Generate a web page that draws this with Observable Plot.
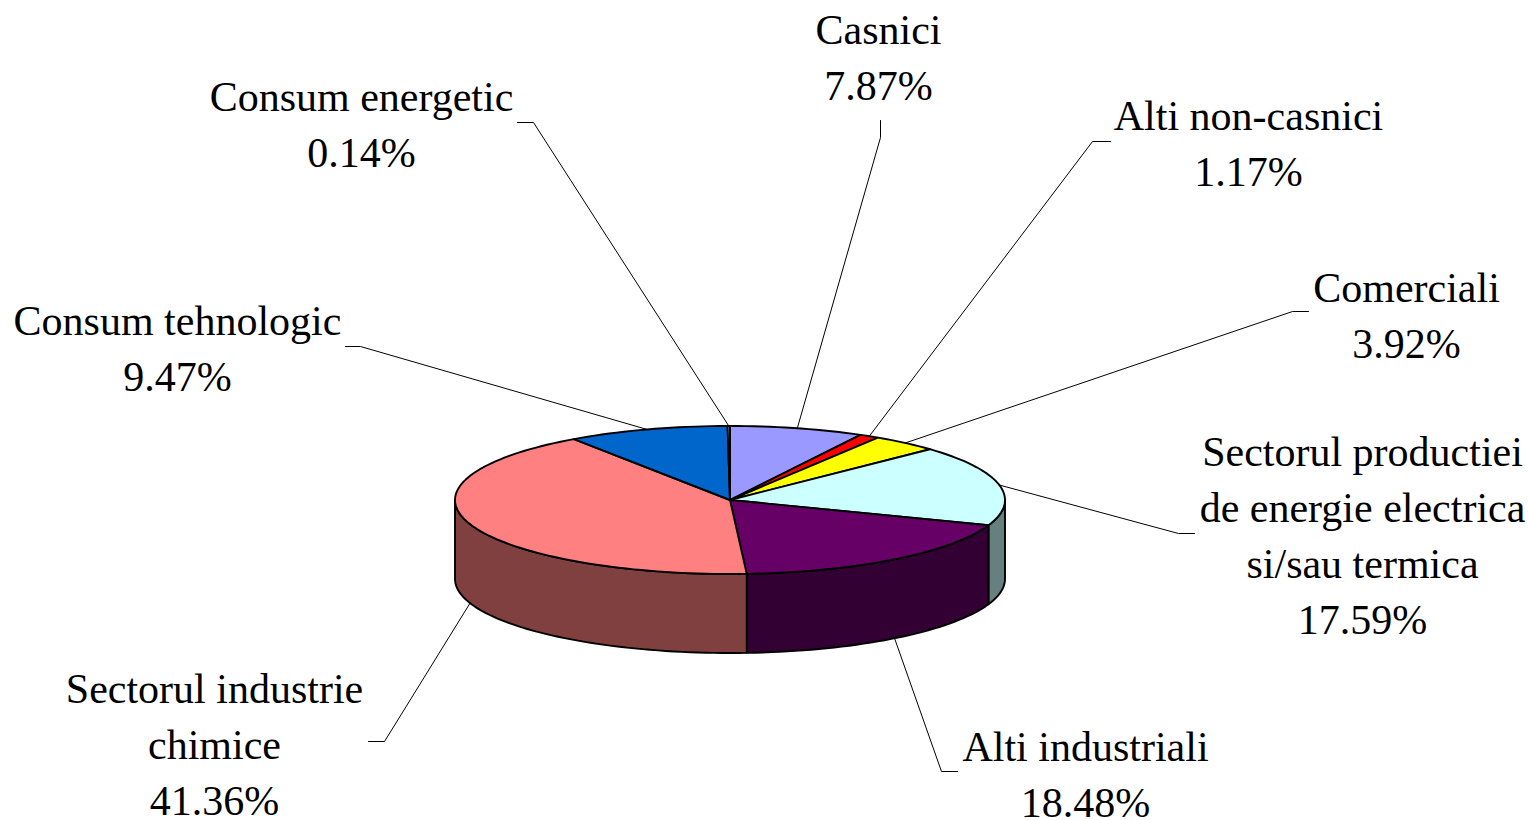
<!DOCTYPE html>
<html>
<head>
<meta charset="utf-8">
<script src="https://cdn.jsdelivr.net/npm/d3@7"></script>
<script src="https://cdn.jsdelivr.net/npm/@observablehq/plot@0.6"></script>
<style>
html,body{margin:0;padding:0;background:#fff;overflow:hidden}
svg{display:block}
</style>
</head>
<body>
<div id="chart"></div>
<script>
// Data, clockwise from 12 o'clock
const names = ["Casnici","Alti non-casnici","Comerciali","Sectorul productiei\nde energie electrica\nsi/sau termica","Alti industriali","Sectorul industrie\nchimice","Consum tehnologic","Consum energetic"];
const shares = [7.87,1.17,3.92,17.59,18.48,41.36,9.47,0.14];
const topColors = ["#9999FF","#FF0000","#FFFF00","#CCFFFF","#660066","#FF8080","#0066CC","#CCCCFF"];
const sideColors = ["#4D4D80","#800000","#808000","#668080","#330033","#804040","#003366","#666680"];
// Label layout, in page units
const labelX = [878,1248,1406,1362,1085,214,177,361];
const labelY = [54,140,312,532,771,741,345,121];
const kneeX = [880,1092,1292,1178,941,384,360,533];
const kneeY = [137,141,311,533,771,741,346,122];
const endX = [880,1110,1308,1194,957,368,345,517];
const endY = [120,141,311,533,771,741,346,122];

// Pie geometry
const cx = 729.5, cy = 499.5, rx = 275, ry = 74, depth = 79;
const total = d3.sum(shares);
const rad = p => p / total * 2 * Math.PI;
const rimX = a => cx + rx * Math.sin(a);
const rimY = a => cy - ry * Math.cos(a);
const cum = d3.cumsum(shares);
const starts = shares.map((s,i) => rad(cum[i] - s));
const ends = shares.map((s,i) => rad(cum[i]));
const arc = (a0,a1) => { const n = Math.max(2, Math.ceil((a1-a0)/0.03)); return d3.range(n+1).map(k => a0+(a1-a0)*k/n); };

const marks = [];
const outline = {stroke:"#000", strokeWidth:1.9, strokeLinejoin:"round", curve:"linear-closed"};

// Side walls: only the front half of the rim (PI/2..3PI/2) is visible
shares.forEach((s,i) => {
  const a0 = Math.max(starts[i], Math.PI/2), a1 = Math.min(ends[i], 3*Math.PI/2);
  if (a1 <= a0) return;
  const as = arc(a0,a1);
  const pts = [...as.map(a => [rimX(a), rimY(a)]), ...as.slice().reverse().map(a => [rimX(a), rimY(a)+depth])];
  marks.push(Plot.line(pts, {x:d=>d[0], y:d=>d[1], fill:sideColors[i], ...outline}));
});
// Top slices
shares.forEach((s,i) => {
  const pts = [[cx,cy], ...arc(starts[i],ends[i]).map(a => [rimX(a), rimY(a)])];
  marks.push(Plot.line(pts, {x:d=>d[0], y:d=>d[1], fill:topColors[i], ...outline}));
});
// Leader lines start on the rim at each slice's middle
shares.forEach((s,i) => {
  const m = (starts[i]+ends[i])/2;
  const front = Math.cos(m) < 0 && shares[i] > 10 && m > 2;
  const start = [rimX(m), rimY(m) + (front ? depth : 0)];
  marks.push(Plot.line([start,[kneeX[i],kneeY[i]],[endX[i],endY[i]]], {x:d=>d[0], y:d=>d[1], stroke:"#000", strokeWidth:1}));
});
// Labels
const labels = names.map((n,i) => ({text:`${n}\n${shares[i].toFixed(2)}%`, x:labelX[i], y:labelY[i]}));
marks.push(Plot.text(labels, {x:"x", y:"y", text:"text", fontFamily:"Liberation Serif", fontSize:42, lineHeight:56/42, textAnchor:"middle", lineAnchor:"middle", fill:"#000"}));

const chart = Plot.plot({
  width:1528, height:820, margin:0,
  style:{background:"#fff", overflow:"visible"},
  x:{domain:[0,1528], range:[0,1528], axis:null},
  y:{domain:[0,820], range:[0,820], axis:null},
  marks
});
document.getElementById("chart").append(chart);
</script>
</body>
</html>
